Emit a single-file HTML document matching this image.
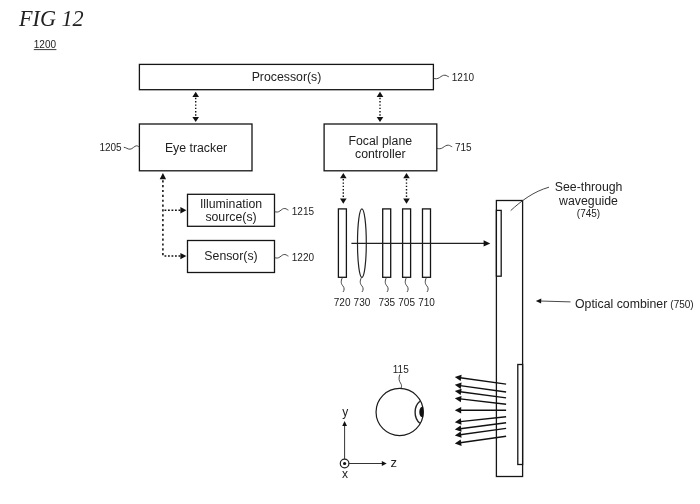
<!DOCTYPE html>
<html>
<head>
<meta charset="utf-8">
<title>FIG 12</title>
<style>
html,body{margin:0;padding:0;background:#fff;}
body{width:700px;height:504px;overflow:hidden;position:relative;}
svg{position:absolute;left:0;top:0;display:block;filter:blur(0.35px);}
text{font-family:"Liberation Sans",sans-serif;fill:#222;}
.t13{font-size:12.3px;transform:translateY(-0.7px);}
.t10{font-size:10px;}
.ax{font-size:13px;}
.fig{font-family:"Liberation Serif",serif;font-style:italic;font-size:22.2px;fill:#222;word-spacing:0px;}
.ln{stroke:#222;stroke-width:1.1;fill:none;}
.box{stroke:#151515;stroke-width:1.3;fill:#fff;}
.dot{stroke:#111;stroke-width:1.4;fill:none;stroke-dasharray:1.4 1.9;}
.vdash{stroke:#111;stroke-width:1.55;fill:none;stroke-dasharray:2.2 2.66;}
.hdash{stroke:#111;stroke-width:1.5;fill:none;stroke-dasharray:1.8 1.7;}
.thin{stroke:#333;stroke-width:0.9;fill:none;}
.ah{fill:#111;stroke:none;}
</style>
</head>
<body>
<svg width="700" height="504" viewBox="0 0 700 504">
<rect x="0" y="0" width="700" height="504" fill="#fff"/>

<!-- Title -->
<text class="fig" x="19" y="26">FIG 12</text>
<text class="t10" x="33.8" y="48.2">1200</text>
<line x1="33.8" y1="49.6" x2="56.4" y2="49.6" stroke="#222" stroke-width="0.9"/>

<!-- Boxes -->
<rect class="box" x="139.4" y="64.4" width="294" height="25.3"/>
<text class="t13" x="286.5" y="81.5" text-anchor="middle">Processor(s)</text>

<rect class="box" x="139.4" y="124" width="112.6" height="46.8"/>
<text class="t13" x="196" y="152.5" text-anchor="middle">Eye tracker</text>

<rect class="box" x="324.1" y="124" width="112.7" height="46.8"/>
<text class="t13" x="380.3" y="145.5" text-anchor="middle">Focal plane</text>
<text class="t13" x="380.3" y="158.8" text-anchor="middle">controller</text>

<rect class="box" x="187.5" y="194.3" width="87" height="32"/>
<text class="t13" x="231" y="208.7" text-anchor="middle">Illumination</text>
<text class="t13" x="231" y="221.7" text-anchor="middle">source(s)</text>

<rect class="box" x="187.5" y="240.5" width="87" height="32"/>
<text class="t13" x="231" y="261.1" text-anchor="middle">Sensor(s)</text>

<!-- Ref labels -->
<text class="t10" x="99.4" y="151">1205</text>
<path class="thin" d="M123.8 147.3 C126 147.3 127.5 149.3 130 149.2 C132.5 149.1 134.5 145.8 136.5 145.8 C138 145.8 138.5 146.8 139.4 147"/>
<text class="t10" x="451.8" y="80.6">1210</text>
<path class="thin" d="M433.4 78.3 C435.5 79.0 437.5 79.0 439.5 77.6 C441.5 76.2 443.0 75.0 445.0 75.2 C446.8 75.4 447.5 76.5 448.8 76.8"/>
<text class="t10" x="455" y="150.8">715</text>
<path class="thin" d="M436.8 148.3 C438.9 149.0 440.9 149.0 442.9 147.6 C444.9 146.2 446.4 145.0 448.4 145.2 C450.2 145.4 450.9 146.5 452.2 146.8"/>
<text class="t10" x="291.8" y="214.8">1215</text>
<path class="thin" d="M274.5 211.6 C276.4 212.3 278.2 212.3 280.0 210.9 C281.8 209.5 283.1 208.3 284.9 208.5 C286.6 208.7 287.2 209.8 288.4 210.1"/>
<text class="t10" x="291.8" y="260.6">1220</text>
<path class="thin" d="M274.5 257.6 C276.4 258.3 278.2 258.3 280.0 256.9 C281.8 255.5 283.1 254.3 284.9 254.5 C286.6 254.7 287.2 255.8 288.4 256.1"/>

<!-- Dashed double arrows -->
<line class="dot" x1="195.7" y1="97.8" x2="195.7" y2="116.9"/>
<path class="ah" d="M195.7 91.7 L199.0 96.9 L192.4 96.9 Z"/>
<path class="ah" d="M195.7 122.1 L199.0 116.9 L192.4 116.9 Z"/>
<line class="dot" x1="380.0" y1="97.8" x2="380.0" y2="116.9"/>
<path class="ah" d="M380.0 91.7 L383.3 96.9 L376.7 96.9 Z"/>
<path class="ah" d="M380.0 122.1 L383.3 116.9 L376.7 116.9 Z"/>
<line class="dot" x1="343.3" y1="179.1" x2="343.3" y2="198.6"/>
<path class="ah" d="M343.3 173.0 L346.6 178.2 L340.0 178.2 Z"/>
<path class="ah" d="M343.3 203.8 L346.6 198.6 L340.0 198.6 Z"/>
<line class="dot" x1="406.5" y1="179.1" x2="406.5" y2="198.6"/>
<path class="ah" d="M406.5 173.0 L409.8 178.2 L403.2 178.2 Z"/>
<path class="ah" d="M406.5 203.8 L409.8 198.6 L403.2 198.6 Z"/>

<!-- Eye tracker dashed tree -->
<path class="ah" d="M162.9 173 L166.1 179.3 L159.7 179.3 Z"/>
<line class="vdash" x1="162.9" y1="180.2" x2="162.9" y2="257"/>
<line class="hdash" x1="164.5" y1="210.3" x2="181" y2="210.3"/>
<line class="hdash" x1="164.5" y1="256.1" x2="181" y2="256.1"/>
<path class="ah" d="M186.4 210.3 L180.4 207.1 L180.4 213.5 Z"/>
<path class="ah" d="M186.4 256.1 L180.4 252.9 L180.4 259.3 Z"/>

<!-- Optical elements -->
<rect class="box" x="338.4" y="208.9" width="8" height="68.4"/>
<ellipse class="ln" cx="361.9" cy="243.1" rx="4.4" ry="34.3" style="stroke-width:1.2"/>
<rect class="box" x="382.7" y="208.9" width="8" height="68.4"/>
<rect class="box" x="402.6" y="208.9" width="8" height="68.4"/>
<rect class="box" x="422.5" y="208.9" width="8" height="68.4"/>
<line class="ln" x1="351.4" y1="243.4" x2="485" y2="243.4" style="stroke-width:1.2"/>
<path class="ah" d="M490.3 243.4 L483.6 240.2 L483.6 246.6 Z"/>

<!-- squiggles under elements -->
<path class="thin" d="M342.5 277.5 C340.5 281 341 284 343 286 C344.5 288 344.5 290 343 292"/>
<path class="thin" d="M361.5 277.5 C359.5 281 360 284 362 286 C363.5 288 363.5 290 362 292"/>
<path class="thin" d="M386.5 277.5 C384.5 281 385 284 387 286 C388.5 288 388.5 290 387 292"/>
<path class="thin" d="M406.5 277.5 C404.5 281 405 284 407 286 C408.5 288 408.5 290 407 292"/>
<path class="thin" d="M426.5 277.5 C424.5 281 425 284 427 286 C428.5 288 428.5 290 427 292"/>
<text class="t10" x="333.8" y="305.8">720</text>
<text class="t10" x="353.6" y="305.8">730</text>
<text class="t10" x="378.5" y="305.8">735</text>
<text class="t10" x="398.3" y="305.8">705</text>
<text class="t10" x="418.2" y="305.8">710</text>

<!-- Waveguide -->
<rect class="box" x="496.4" y="200.5" width="26.2" height="276"/>
<rect class="box" x="496.4" y="210.4" width="4.8" height="65.8"/>
<rect class="box" x="517.8" y="364.5" width="4.8" height="100"/>
<path class="thin" d="M510.7 210.6 C521 201 534 191.3 549 187.2"/>
<text class="t13" x="588.6" y="191.3" text-anchor="middle">See-through</text>
<text class="t13" x="588.5" y="205.6" text-anchor="middle">waveguide</text>
<text class="t10" x="588.5" y="216.9" text-anchor="middle">(745)</text>

<line x1="540" y1="301" x2="570.5" y2="301.9" stroke="#333" stroke-width="0.9"/>
<path class="ah" d="M535.8 300.9 L541.3 298.6 L541.1 303.4 Z"/>
<text class="t13" x="575" y="308.6">Optical combiner</text>
<text class="t10" x="670.3" y="308.2">(750)</text>

<!-- Eye -->
<text class="t10" x="392.8" y="372.6">115</text>
<path class="thin" d="M399.8 374.5 C398.5 378 399 381 400.5 383 C401.8 385 401.8 386.5 401 388"/>
<circle class="ln" cx="399.65" cy="412" r="23.6" style="stroke-width:1.2;stroke:#1a1a1a"/>
<path class="ln" d="M419.9 401.2 C413.5 406.5 413.5 417.7 419.9 423.2" style="stroke-width:1.4"/>
<path class="ah" d="M423 406.4 C419.9 406.6 419.3 410 419.3 412 C419.3 414 419.9 417.3 423 417.5 C423.9 414 423.9 410 423 406.4 Z"/>

<!-- Axes -->
<circle class="ln" cx="344.6" cy="463.5" r="4.3" style="stroke-width:1.2"/>
<circle cx="344.6" cy="463.5" r="1.6" fill="#111"/>
<line x1="344.6" y1="459" x2="344.6" y2="425" stroke="#2a2a2a" stroke-width="0.95"/>
<path class="ah" d="M344.6 421.1 L347 426 L342.2 426 Z"/>
<line x1="349" y1="463.5" x2="382" y2="463.5" stroke="#2a2a2a" stroke-width="0.95"/>
<path class="ah" d="M386.7 463.5 L381.8 461.1 L381.8 465.9 Z"/>
<text class="ax" x="342.3" y="415.8" style="font-size:12px">y</text>
<text class="ax" x="390.6" y="467">z</text>
<text class="ax" x="341.9" y="477.9" style="font-size:12px">x</text>

<!-- Ray arrows -->
<g class="ln" style="stroke:#111;stroke-width:1.45">
<line x1="506.1" y1="384.1" x2="460.2" y2="377.8"/>
<line x1="506.1" y1="392.0" x2="460.1" y2="385.6"/>
<line x1="506.1" y1="397.9" x2="460.2" y2="391.7"/>
<line x1="506.1" y1="404.2" x2="460.2" y2="398.9"/>
<line x1="506.1" y1="410.2" x2="460.2" y2="410.2"/>
<line x1="506.1" y1="416.8" x2="460.2" y2="421.6"/>
<line x1="506.1" y1="422.7" x2="460.2" y2="428.8"/>
<line x1="506.1" y1="428.4" x2="460.1" y2="434.8"/>
<line x1="506.1" y1="436.3" x2="460.1" y2="442.8"/>
</g>
<g class="ah">
<path d="M454.8 377.1 L460.7 381.1 L461.6 374.8 Z"/>
<path d="M454.8 384.8 L460.7 388.9 L461.6 382.5 Z"/>
<path d="M454.8 391.0 L460.7 395.0 L461.6 388.7 Z"/>
<path d="M454.8 398.3 L460.8 402.2 L461.5 395.9 Z"/>
<path d="M454.8 410.2 L461.2 413.4 L461.2 407.0 Z"/>
<path d="M454.8 422.2 L461.5 424.7 L460.8 418.3 Z"/>
<path d="M454.8 429.5 L461.6 431.8 L460.7 425.5 Z"/>
<path d="M454.8 435.5 L461.6 437.8 L460.7 431.5 Z"/>
<path d="M454.8 443.6 L461.6 445.9 L460.7 439.5 Z"/>
</g>
</svg>
</body>
</html>
